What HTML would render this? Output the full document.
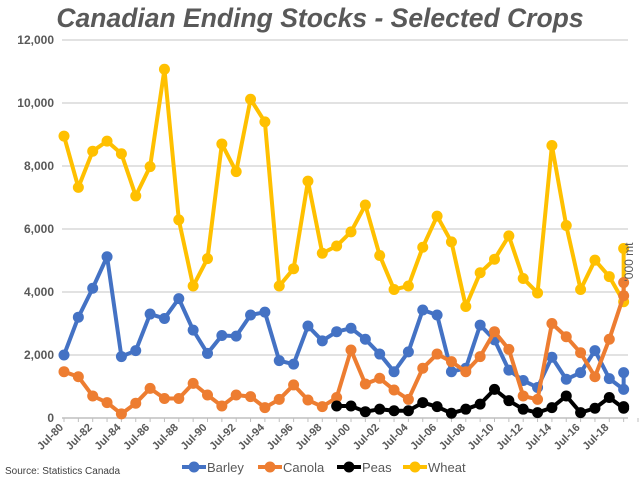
<!DOCTYPE html>
<html><head><meta charset="utf-8"><style>
body{margin:0;background:#fff;}
svg{display:block;font-family:"Liberation Sans",sans-serif;}
</style></head><body>
<svg id="chart" width="640" height="480" viewBox="0 0 640 480">
<text x="320" y="27" text-anchor="middle" font-size="26.5" font-weight="bold" font-style="italic" fill="#595959">Canadian Ending Stocks - Selected Crops</text>
<g id="grid"></g>
<g id="yticks"></g>
<g id="xticks"></g>
<g id="series"></g>
<text transform="translate(633,262) rotate(-90)" text-anchor="middle" font-size="12" fill="#595959">'000 mt</text>
<text x="5" y="474" font-size="10" fill="#404040">Source: Statistics Canada</text>
<g id="legend"></g>
</svg>
<script>
const yTicks=[0,2000,4000,6000,8000,10000,12000];
const yTickLabels=["0","2,000","4,000","6,000","8,000","10,000","12,000"];
const xLabels=["Jul-80","Jul-82","Jul-84","Jul-86","Jul-88","Jul-90","Jul-92","Jul-94","Jul-96","Jul-98","Jul-00","Jul-02","Jul-04","Jul-06","Jul-08","Jul-10","Jul-12","Jul-14","Jul-16","Jul-18"];
const startYear=1980;
const seriesNames=["Barley","Canola","Peas","Wheat"];
const seriesColors=["#4472C4","#ED7D31","#000000","#FFC000"];
const barley=[2000,3200,4120,5120,1950,2140,3300,3160,3790,2790,2050,2620,2600,3270,3360,1820,1710,2920,2450,2740,2850,2500,2030,1470,2100,3430,3270,1470,1580,2950,2480,1520,1190,970,1930,1230,1440,2140,1250,910];
const barleyExtra=1440;
const canola=[1470,1310,700,490,130,470,940,620,620,1100,730,380,730,680,330,590,1050,570,360,650,2160,1080,1260,890,590,1580,2030,1790,1470,1950,2740,2180,700,590,3000,2580,2070,1310,2500,3880];
const canolaExtra=4300;
const peasStart=19;
const peas=[380,380,200,280,230,230,490,360,150,280,440,910,550,280,170,330,700,170,310,650,310];
const peasExtra=360;
const wheat=[8950,7320,8470,8790,8390,7050,7980,11070,6290,4190,5060,8700,7820,10120,9400,4190,4740,7520,5230,5460,5910,6760,5160,4080,4190,5420,6410,5590,3540,4610,5040,5780,4430,3970,8650,6110,4080,5010,4490,3690];
const wheatExtra=5380;

const NS="http://www.w3.org/2000/svg";
const X0=64,DX=14.35,Y0=418,YMAX=12000,YTOP=40;
const xs=i=>X0+i*DX;
const ys=v=>Y0-(v/YMAX)*(Y0-YTOP);
function mk(tag,attrs,parent){const e=document.createElementNS(NS,tag);for(const k in attrs)e.setAttribute(k,attrs[k]);parent.appendChild(e);return e;}
const grid=document.getElementById('grid'),yt=document.getElementById('yticks'),xt=document.getElementById('xticks'),sg=document.getElementById('series'),lg=document.getElementById('legend');
yTicks.forEach((v,i)=>{
  const l=mk('line',{x1:62,x2:628,y1:ys(v),y2:ys(v),stroke:i==0?'#bfbfbf':'#d9d9d9','stroke-width':1.5},grid);
  
  
  const t=mk('text',{x:54,y:ys(v)+4,'text-anchor':'end','font-size':12,'font-weight':'bold',fill:'#595959'},yt);
  t.textContent=yTickLabels[i];
  
  
});
for(let i=0;i<=40;i++){
  const tk=mk('line',{x1:xs(i),x2:xs(i),y1:Y0,y2:Y0+4,stroke:'#bfbfbf','stroke-width':1},grid);
  
  
}
xLabels.forEach((s,k)=>{
  const x=xs(k*2),y=Y0+10;
  const t=mk('text',{x:x,y:y,'text-anchor':'end','font-size':11,'font-weight':'bold',fill:'#595959',transform:`rotate(-45 ${x} ${y})`},xt);
  t.textContent=s;
  
  
});
function draw(vals,extra,start,color,name){
  const g=mk('g',{},sg);
  
  
  const pts=vals.map((v,i)=>[xs(start+i),ys(v)]);
  const lastX=xs(start+vals.length-1);
  pts.push([lastX,ys(extra)]);
  const p=mk('polyline',{points:pts.map(p=>p.join(',')).join(' '),fill:'none',stroke:color,'stroke-width':4,'stroke-linejoin':'round'},g);
  
  
  pts.forEach(q=>{
    const c=mk('circle',{cx:q[0],cy:q[1],r:5.5,fill:color},g);
    
    
  });
}
draw(wheat,wheatExtra,0,seriesColors[3],'Wheat');
draw(barley,barleyExtra,0,seriesColors[0],'Barley');
draw(canola,canolaExtra,0,seriesColors[1],'Canola');
draw(peas,peasExtra,peasStart,seriesColors[2],'Peas');
const lx=[182,258,337,403];
seriesNames.forEach((n,i)=>{
  const g=mk('g',{},lg);
  
  
  mk('line',{x1:lx[i],x2:lx[i]+24,y1:467,y2:467,stroke:seriesColors[i],'stroke-width':4},g);
  mk('circle',{cx:lx[i]+12,cy:467,r:5.5,fill:seriesColors[i]},g);
  const t=mk('text',{x:lx[i]+25,y:472,'font-size':13,fill:'#595959'},g);
  t.textContent=n;
});
</script>
</body></html>
